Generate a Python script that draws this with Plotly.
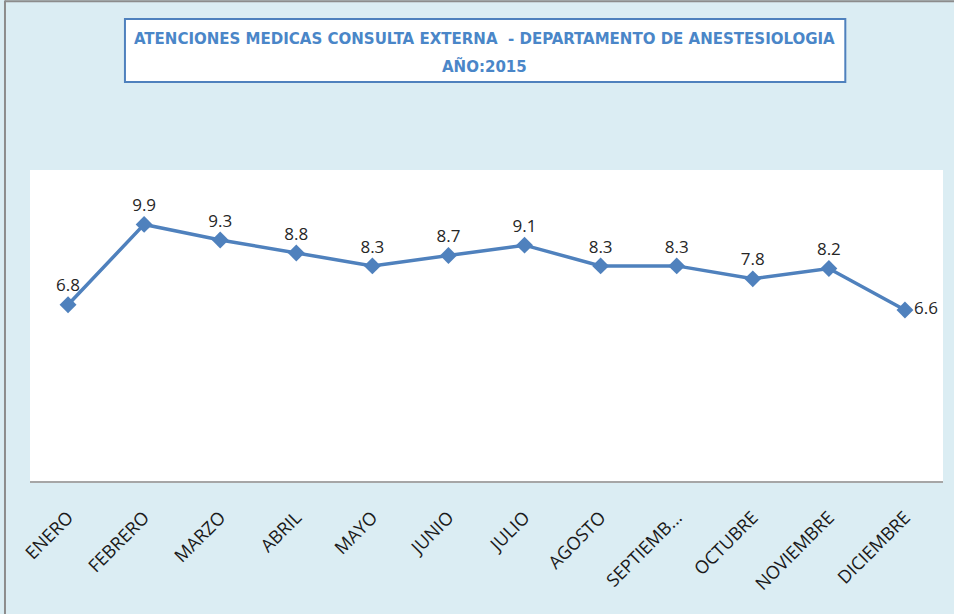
import plotly.graph_objects as go

meses = ["ENERO", "FEBRERO", "MARZO", "ABRIL", "MAYO", "JUNIO", "JULIO",
         "AGOSTO", "SEPTIEMB...", "OCTUBRE", "NOVIEMBRE", "DICIEMBRE"]
valores = [6.8, 9.9, 9.3, 8.8, 8.3, 8.7, 9.1, 8.3, 8.3, 7.8, 8.2, 6.6]
posiciones = ["top center"] * 11 + ["middle right"]

titulo1 = "ATENCIONES MEDICAS CONSULTA EXTERNA  - DEPARTAMENTO DE ANESTESIOLOGIA"
titulo2 = "AÑO:2015"

BG = "#DBEDF3"
BLUE = "#4F81BD"

fig = go.Figure()
fig.add_trace(go.Scatter(
    x=meses, y=valores, mode="lines+markers+text",
    text=[f"{v:.1f}" for v in valores], textposition=posiciones,
    textfont=dict(family="Open Sans", size=17, color="#262626"),
    line=dict(color=BLUE, width=3.5),
    marker=dict(symbol="diamond", size=13, color=BLUE),
    cliponaxis=False, hoverinfo="skip",
))

fig.update_layout(
    width=954, height=614,
    margin=dict(l=30, r=11, t=170, b=133),
    paper_bgcolor=BG, plot_bgcolor="white",
    showlegend=False,
    xaxis=dict(showgrid=False, showline=True, linecolor="#A6A6A6", linewidth=2,
               range=[-0.5, len(meses) - 0.5],
               tickangle=-45, ticklabelstandoff=17,
               tickfont=dict(family="Open Sans", size=18, color="#1a1a1a"),
               fixedrange=True),
    yaxis=dict(range=[0, 12], visible=False, fixedrange=True),
    shapes=[
        dict(type="rect", xref="paper", yref="paper", x0=0.104, x1=0.893,
             y0=1.283, y1=1.4855, line=dict(color=BLUE, width=2), fillcolor="white"),
        dict(type="line", xref="paper", yref="paper", x0=-0.0274, x1=-0.0274,
             y0=-0.45, y1=1.545, line=dict(color="#8C8C8C", width=2)),
        dict(type="line", xref="paper", yref="paper", x0=-0.0274, x1=1.02,
             y0=1.543, y1=1.543, line=dict(color="#8C8C8C", width=2)),
    ],
    annotations=[
        dict(text=titulo1, xref="paper", yref="paper", x=0.498, y=(481-38)/311,
             showarrow=False, xanchor="center", yanchor="middle",
             font=dict(family="DejaVu Sans Condensed", size=16.7, weight="bold", color="#4A86C8")),
        dict(text=titulo2, xref="paper", yref="paper", x=0.498, y=(481-66)/311,
             showarrow=False, xanchor="center", yanchor="middle",
             font=dict(family="DejaVu Sans Condensed", size=16.7, weight="bold", color="#4A86C8")),
    ],
)

fig.write_html("out.html", config={"displayModeBar": False},
               post_script="document.body.style.margin='0';")
